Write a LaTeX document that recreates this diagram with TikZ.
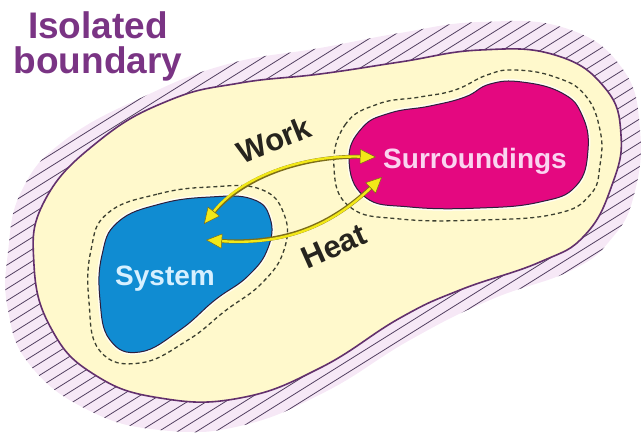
\documentclass[tikz,border=0pt]{standalone}
\usepackage{fontspec}
\setmainfont{Liberation Sans}
\usepackage{tikz}
\usetikzlibrary{arrows.meta}
\definecolor{isofill}{RGB}{255,249,204}
\definecolor{isoline}{RGB}{98,48,108}
\definecolor{isotitle}{RGB}{122,52,132}
\definecolor{bandtint}{RGB}{246,232,246}
\definecolor{hatchcol}{RGB}{82,64,96}
\definecolor{sysblue}{RGB}{16,140,210}
\definecolor{surpink}{RGB}{228,8,128}
\definecolor{blobedge}{RGB}{45,30,60}
\definecolor{dashcol}{RGB}{60,64,48}
\definecolor{flowyellow}{RGB}{242,232,24}
\definecolor{flowedge}{RGB}{125,110,25}
\definecolor{flowtext}{RGB}{38,36,30}
\definecolor{systext}{RGB}{215,240,255}
\definecolor{surtext}{RGB}{250,212,240}
\tikzset{
  isoedge/.style={draw=isoline, fill=isofill, line width=1.6pt},
  hatch/.style={draw=hatchcol, line width=0.8pt},
  halo/.style={draw=white, line width=4pt, opacity=0.8},
  blob/.style={draw=blobedge, line width=1pt},
  ctrlvol/.style={draw=dashcol, line width=1.3pt, dash pattern=on 4pt off 3pt},
  flowbase/.style={draw=flowedge, line width=4pt, shorten <=9pt, shorten >=9pt},
  flow/.style={draw=flowyellow, line width=2.4pt,
    >={Triangle[length=16pt,width=15pt,fill=flowyellow,color=flowedge,line width=0.5pt]}, <->},
  flowlabel/.style={font=\fontsize{31}{31}\selectfont\bfseries, text=flowtext, inner sep=0pt},
  bloblabel/.style={font=\fontsize{28}{28}\selectfont\bfseries, inner sep=0pt, anchor=base},
  titlelabel/.style={font=\fontsize{37}{35}\selectfont\bfseries, text=isotitle,
    align=center, inner sep=0pt, anchor=north},
}
% outlines, in pixels from the top left corner
\def\isopath{plot[smooth cycle, tension=0.75] coordinates {(100,140) (170,100) (240,83) (320,74)
  (400,62) (480,50) (555,55) (605,88) (621,135) (612,185) (585,235) (540,262) (460,290)
  (400,318) (320,368) (240,398) (160,398) (95,375) (52,330) (34,265) (45,200)}}
\def\bandpath{plot[smooth cycle, tension=0.75] coordinates {(8,252) (22,190) (65,140) (145,96)
  (228,64) (320,48) (400,33) (480,22) (565,28) (622,68) (640,130) (634,195) (612,238)
  (572,270) (490,300) (410,340) (325,392) (240,426) (160,430) (88,410) (30,365) (8,310)}}
\def\syspath{plot[smooth cycle, tension=0.75] coordinates {(118,222) (160,204) (210,197)
  (252,199) (270,218) (268,248) (248,276) (215,300) (180,330) (140,352) (110,340) (100,300)
  (102,255)}}
\def\sysdash{plot[smooth cycle, tension=0.75] coordinates {(108,213) (158,194) (210,187)
  (260,189) (284,214) (284,250) (262,283) (225,311) (188,340) (140,363) (100,351) (89,302)
  (91,250)}}
\def\surpath{plot[smooth cycle, tension=0.75] coordinates {(349,160) (362,128) (390,113)
  (430,106) (465,97) (490,84) (522,82) (562,93) (582,115) (588,150) (576,186) (540,202)
  (480,208) (410,207) (365,197)}}
\def\surdash{plot[smooth cycle, tension=0.75] coordinates {(334,168) (345,125) (378,104)
  (420,97) (455,90) (487,75) (515,70) (555,77) (585,95) (600,130) (600,165) (590,195)
  (555,214) (480,220) (400,219) (350,207)}}

\begin{document}
\begin{tikzpicture}[x=1pt,y=-1pt]
  \useasboundingbox (0,0) rectangle (643,432);

  % hatched band outside the boundary
  \begin{scope}
    \clip \bandpath;
    \fill[bandtint] (0,0) rectangle (643,432);
    \foreach \c in {-460,-441,...,340} \draw[hatch] (\c,450) -- ++(760,-475);
  \end{scope}
  \draw[isoedge] \isopath;

  % system and surroundings
  \draw[ctrlvol] \sysdash;
  \draw[ctrlvol] \surdash;
  \draw[halo] \syspath;
  \draw[halo] \surpath;
  \filldraw[blob, fill=sysblue] \syspath;
  \filldraw[blob, fill=surpink] \surpath;

  \node[titlelabel] (title) at (98,11) {Isolated\\boundary};
  \node[bloblabel, text=systext] (sys) at (165,285) {System};
  \node[bloblabel, text=surtext] (sur) at (475,168) {Surroundings};

  % work and heat exchange
  \coordinate (wkY) at (204,224);
  \coordinate (wkS) at (376,157);
  \coordinate (htY) at (206,240);
  \coordinate (htS) at (382,177);
  \draw[flowbase] (wkY) .. controls (240,178) and (300,155) .. (wkS);
  \draw[flow] (wkY) .. controls (240,178) and (300,155) .. (wkS);
  \draw[flowbase] (htY) .. controls (290,246) and (335,222) .. (htS);
  \draw[flow] (htY) .. controls (290,246) and (335,222) .. (htS);
  \node[flowlabel, rotate=22] (work) at (274,140) {Work};
  \node[flowlabel, rotate=24] (heat) at (334,246) {Heat};
\end{tikzpicture}
\end{document}
